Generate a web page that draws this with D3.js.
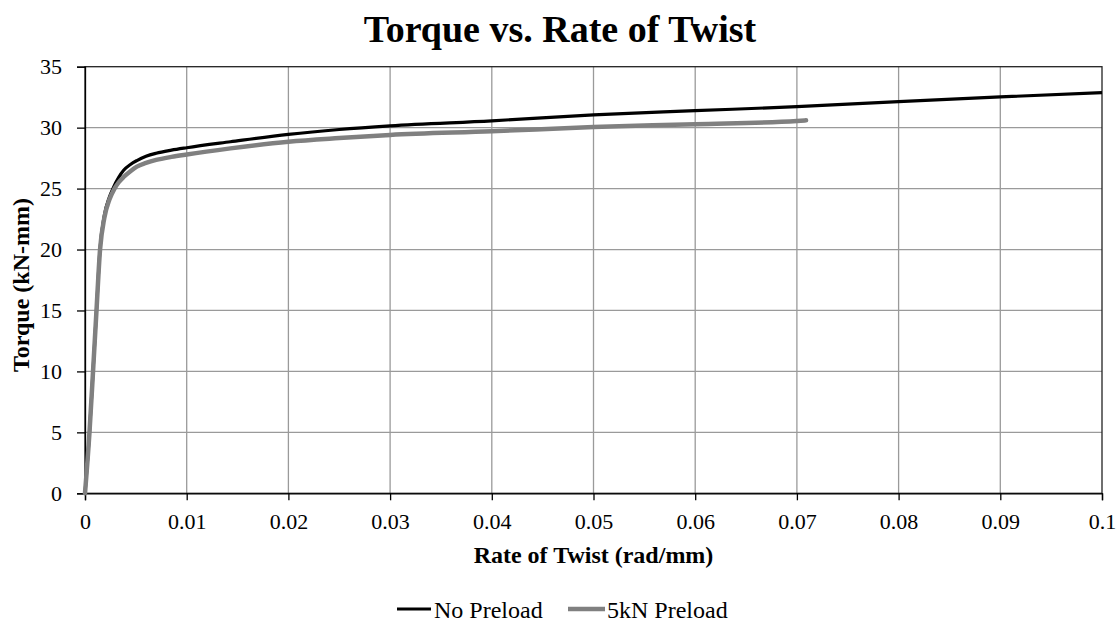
<!DOCTYPE html>
<html>
<head>
<meta charset="utf-8">
<script src="https://cdn.jsdelivr.net/npm/d3@7"></script>
<style>
  body { margin: 0; background: #fff; }
  svg { display: block; font-family: "Liberation Serif", "Times New Roman", serif; }
  svg text { font-family: "Liberation Serif", "Times New Roman", serif; }
</style>
</head>
<body>
<svg id="chart" width="1119" height="622"></svg>
<script>
// ---- data ----
const seriesNames = ["No Preload", "5kN Preload"];
const noPreloadRate = [0, 0.00044, 0.00079, 0.00113, 0.00147, 0.0019, 0.0024, 0.0028, 0.0033, 0.0038, 0.0045, 0.0051, 0.006, 0.007, 0.0085, 0.01, 0.0143, 0.02, 0.025, 0.03, 0.04, 0.05, 0.06, 0.07, 0.08, 0.09, 0.1];
const noPreloadTorque = [0, 5, 10, 15, 20, 22.8, 24.3, 25.1, 25.9, 26.5, 27.0, 27.3, 27.65, 27.9, 28.15, 28.35, 28.84, 29.45, 29.85, 30.15, 30.56, 31.05, 31.39, 31.72, 32.13, 32.52, 32.87];
const preloadRate = [0, 0.00044, 0.00079, 0.00113, 0.00148, 0.0019, 0.0024, 0.0029, 0.0033, 0.0038, 0.0045, 0.0051, 0.006, 0.007, 0.0085, 0.01, 0.0143, 0.02, 0.025, 0.03, 0.04, 0.05, 0.06, 0.07, 0.0709];
const preloadTorque = [0, 5, 10, 15, 20, 22.6, 24.1, 25.0, 25.5, 25.95, 26.45, 26.8, 27.1, 27.35, 27.6, 27.8, 28.3, 28.85, 29.15, 29.4, 29.7, 30.05, 30.28, 30.55, 30.6];
const xTicks = [0, 0.01, 0.02, 0.03, 0.04, 0.05, 0.06, 0.07, 0.08, 0.09, 0.1];
const yTicks = [0, 5, 10, 15, 20, 25, 30, 35];

// ---- layout ----
const svg = d3.select("#chart");
const m = { left: 85, right: 1102, top: 66.7, bottom: 493.3 };
const x = d3.scaleLinear().domain([0, 0.1]).range([m.left, m.right]);
const y = d3.scaleLinear().domain([0, 35]).range([m.bottom, m.top]);
const FONT = "Liberation Serif";

// grid
svg.append("g").selectAll("line").data(xTicks.slice(1, -1)).join("line")
  .attr("x1", d => x(d)).attr("x2", d => x(d)).attr("y1", m.top).attr("y2", m.bottom)
  .attr("stroke", "#9a9a9a").attr("stroke-width", 1.3);
svg.append("g").selectAll("line").data(yTicks.slice(1, -1)).join("line")
  .attr("y1", d => y(d)).attr("y2", d => y(d)).attr("x1", m.left).attr("x2", m.right)
  .attr("stroke", "#9a9a9a").attr("stroke-width", 1.3);

// border
svg.append("rect").attr("x", m.left).attr("y", m.top)
  .attr("width", m.right - m.left).attr("height", m.bottom - m.top)
  .attr("fill", "none").attr("stroke", "#222").attr("stroke-width", 1.3);

// axes
const xAxis = d3.axisBottom(x).tickValues(xTicks).tickSize(7).tickPadding(13)
  .tickFormat(d => d === 0 ? "0" : (d === 0.1 ? "0.1" : d3.format(".2f")(d)));
const gx = svg.append("g").attr("transform", `translate(0,${m.bottom})`).call(xAxis);
gx.attr("font-family", FONT).attr("font-size", 22);
gx.select(".domain").attr("stroke", "#000").attr("stroke-width", 1.3);
gx.selectAll(".tick line").attr("stroke", "#000").attr("stroke-width", 1.3);
gx.selectAll("text").attr("fill", "#000");

const yAxis = d3.axisLeft(y).tickValues(yTicks).tickSize(8).tickPadding(15);
const gy = svg.append("g").attr("transform", `translate(${m.left},0)`).call(yAxis);
gy.attr("font-family", FONT).attr("font-size", 22);
gy.select(".domain").attr("stroke", "#000").attr("stroke-width", 1.3);
gy.selectAll(".tick line").attr("stroke", "#000").attr("stroke-width", 1.3);
gy.selectAll("text").attr("fill", "#000");

// lines
const line = d3.line().x(d => x(d[0])).y(d => y(d[1])).curve(d3.curveMonotoneX);
const blackData = d3.zip(noPreloadRate, noPreloadTorque);
const grayData = d3.zip(preloadRate, preloadTorque);

svg.append("path").datum(blackData).attr("d", line)
  .attr("fill", "none").attr("stroke", "#000").attr("stroke-width", 3.2)
  .attr("stroke-linejoin", "round");
svg.append("path").datum(grayData).attr("d", line)
  .attr("fill", "none").attr("stroke", "#808080").attr("stroke-width", 4.5)
  .attr("stroke-linecap", "round").attr("stroke-linejoin", "round");

// title
svg.append("text").attr("x", 560).attr("y", 42).attr("text-anchor", "middle")
  .attr("font-size", 38).attr("font-weight", "bold").text("Torque vs. Rate of Twist");

// axis titles
svg.append("text").attr("x", 593.5).attr("y", 563).attr("text-anchor", "middle")
  .attr("font-size", 24).attr("font-weight", "bold").text("Rate of Twist (rad/mm)");
svg.append("text").attr("transform", `translate(29,285) rotate(-90)`)
  .attr("text-anchor", "middle").attr("font-size", 24).attr("font-weight", "bold")
  .text("Torque (kN-mm)");

// legend
const legend = [
  { name: seriesNames[0], color: "#000", w: 3.2, x0: 397, x1: 431, tx: 434 },
  { name: seriesNames[1], color: "#808080", w: 4.5, x0: 568, x1: 605, tx: 607 }
];
const lg = svg.append("g");
legend.forEach(l => {
  lg.append("line").attr("x1", l.x0).attr("x2", l.x1).attr("y1", 609).attr("y2", 609)
    .attr("stroke", l.color).attr("stroke-width", l.w);
  lg.append("text").attr("x", l.tx).attr("y", 618).attr("font-size", 24).text(l.name);
});
</script>
</body>
</html>
